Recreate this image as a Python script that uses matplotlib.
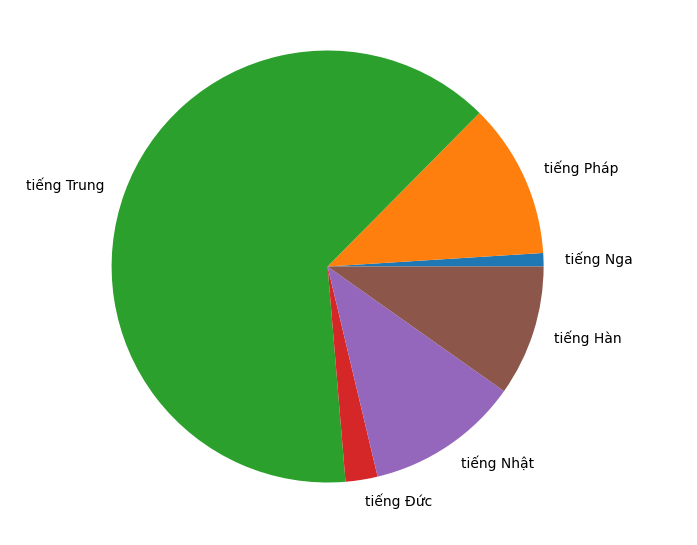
import matplotlib
matplotlib.use("Agg")
import matplotlib.pyplot as plt

# values (percent shares, counterclockwise from 0 deg)
languages = ["tiếng Nga", "tiếng Pháp", "tiếng Trung", "tiếng Đức", "tiếng Nhật", "tiếng Hàn"]
shares = [1.0, 11.6, 63.8, 2.4, 11.5, 9.8]

W, H = 697, 545
cx, cy, r = 327.6, 266.5, 216  # pie centre and radius in pixels

fig = plt.figure(figsize=(W / 100, H / 100), dpi=100)
ax = fig.add_axes([0, 0, 1, 1])
ax.pie(shares, labels=languages)
ax.set_aspect("auto")
ax.set_xlim(-cx / r, (W - cx) / r)
ax.set_ylim(-(H - cy) / r, cy / r)
ax.axis("off")

fig.savefig("out.png", dpi=100)
